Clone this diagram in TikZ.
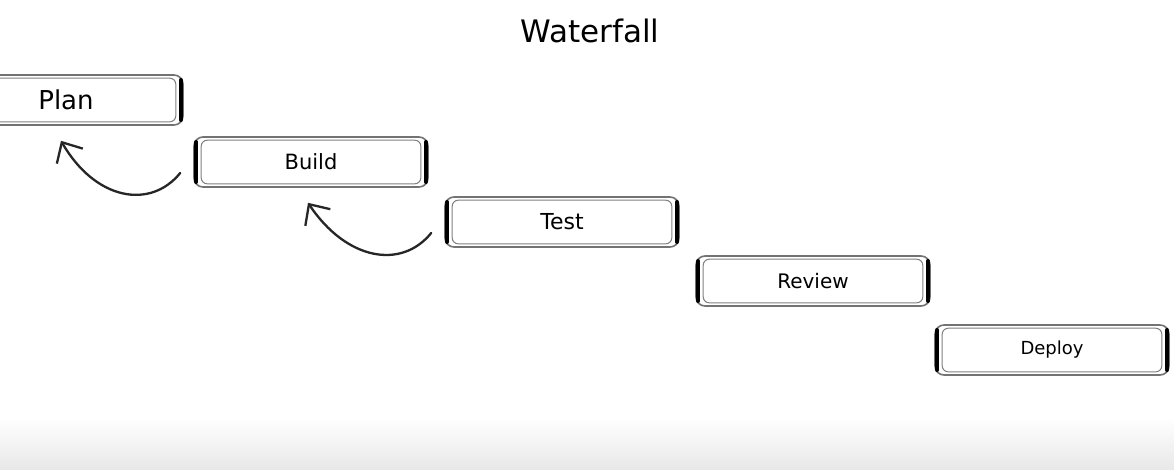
\documentclass[tikz,border=0pt]{standalone}
\usepackage{fontspec}
\setmainfont{DejaVu Sans}
\usetikzlibrary{arrows.meta}
\tikzset{
  stage/.style={rectangle, rounded corners=9pt, draw=black!55, line width=1.6pt,
    minimum width=234pt, minimum height=50pt, inner sep=0pt, fill=white},
  stagebar/.style={line width=4.4pt, black, line cap=round},
  stageinner/.style={draw=black!50, line width=1pt, rounded corners=6pt},
  back/.style={line width=2.3pt, black!85, line cap=round,
    -{Straight Barb[length=16pt, width=30pt, line width=2.3pt]}},
}
\newcommand\stagedeco[1]{%
  \draw[stageinner] ([shift={(8pt,-4pt)}]#1.north west) rectangle ([shift={(-8pt,4pt)}]#1.south east);
  \draw[stagebar] ([shift={(3pt,-6pt)}]#1.north west) -- ([shift={(3pt,6pt)}]#1.south west);
  \draw[stagebar] ([shift={(-3pt,-6pt)}]#1.north east) -- ([shift={(-3pt,6pt)}]#1.south east);
}
\begin{document}
\begin{tikzpicture}[x=1pt, y=-1pt]
  \clip (0,0) rectangle (1174,469);
  \useasboundingbox (0,0) rectangle (1174,469);
  \fill[white] (0,0) rectangle (1174,469);
  \shade[top color=white, bottom color=black!9] (0,418) rectangle (1174,469);

  \node[font=\fontsize{31}{34}\selectfont] (title) at (590,31) {Waterfall};

  \node[stage, font=\fontsize{26}{30}\selectfont] (plan) at (66,100) {Plan};
  \node[stage, font=\fontsize{21}{25}\selectfont] (build) at (311,162) {Build};
  \node[stage, font=\fontsize{22}{26}\selectfont] (test) at (562,222) {Test};
  \node[stage, font=\fontsize{20}{24}\selectfont] (review) at (813,281) {Review};
  \node[stage, font=\fontsize{18}{22}\selectfont] (deploy) at (1052,350) {Deploy};

  \stagedeco{plan}
  \stagedeco{build}
  \stagedeco{test}
  \stagedeco{review}
  \stagedeco{deploy}

  \coordinate (b1) at ([shift={(-13pt,-11pt)}]build.west);
  \coordinate (p1) at ([shift={(-5pt,-15pt)}]plan.south);
  \draw[back] (b1) .. controls ([shift={(-30pt,-37pt)}]b1) and ([shift={(-85pt,-27pt)}]b1) .. (p1);

  \coordinate (t1) at ([shift={(-13pt,-11pt)}]test.west);
  \coordinate (b2) at ([shift={(-3pt,-15pt)}]build.south);
  \draw[back] (t1) .. controls ([shift={(-30pt,-37pt)}]t1) and ([shift={(-85pt,-27pt)}]t1) .. (b2);
\end{tikzpicture}
\end{document}
